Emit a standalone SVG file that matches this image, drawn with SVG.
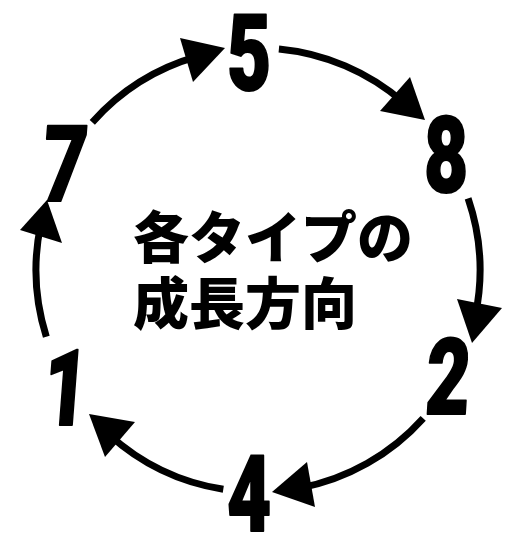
<svg xmlns="http://www.w3.org/2000/svg" width="519" height="550" viewBox="0 0 519 550">
<style>
.arc{fill:none;stroke:#000;stroke-width:7;stroke-linecap:butt}
.head{fill:#000;stroke:none}
.num{font-family:Roboto,"Liberation Sans",sans-serif;font-weight:900;font-size:106px;fill:#000;stroke:#000;stroke-width:2;stroke-linejoin:round;text-anchor:middle}
.title{font-family:"Noto Sans CJK JP","Noto Sans CJK SC",sans-serif;font-weight:900;font-size:56px;fill:#000}
</style>
<rect width="519" height="550" fill="#fff"/>
<g id="connectors">
<path class="arc" d="M92.3,122.3 A222,222 0 0 1 197.5,56.4"/>
<polygon class="head" points="225,48 180,38 193,82"/>
<path class="arc" d="M278.9,49 A222,222 0 0 1 403.3,102.2"/>
<polygon class="head" points="425,120 410,77 380,111"/>
<path class="arc" d="M468.1,198.4 A222,222 0 0 1 475.5,314.6"/>
<polygon class="head" points="472,343 457,299 502,308"/>
<path class="arc" d="M423.2,418.3 A222,222 0 0 1 300,488"/>
<polygon class="head" points="272,492 307,462 315,507"/>
<path class="arc" d="M223.3,489.3 A222,222 0 0 1 108.9,434.5"/>
<polygon class="head" points="89,414 105,457 135,422"/>
<path class="arc" d="M46.3,336.8 A222,222 0 0 1 40.7,224.6"/>
<polygon class="head" points="47,200 20,230 62,243"/>
</g>
<g id="n5"><text class="num" transform="translate(249,90) scale(0.72,1)">5</text></g>
<g id="n8"><text class="num" transform="translate(446,192) scale(0.72,1)">8</text></g>
<g id="n2"><text class="num" transform="translate(446,414) scale(0.72,1) skewX(-5)">2</text></g>
<g id="n4"><text class="num" transform="translate(249,531) scale(0.72,1)">4</text></g>
<g id="n1"><text class="num" transform="translate(63,425) scale(0.72,1) skewX(-6)">1</text></g>
<g id="n7"><text class="num" transform="translate(62,201) scale(0.72,1) skewX(-6)">7</text></g>
<g id="center">
<text class="title" x="133" y="258">各タイプの</text>
<text class="title" x="133" y="324">成長方向</text>
</g>
</svg>
